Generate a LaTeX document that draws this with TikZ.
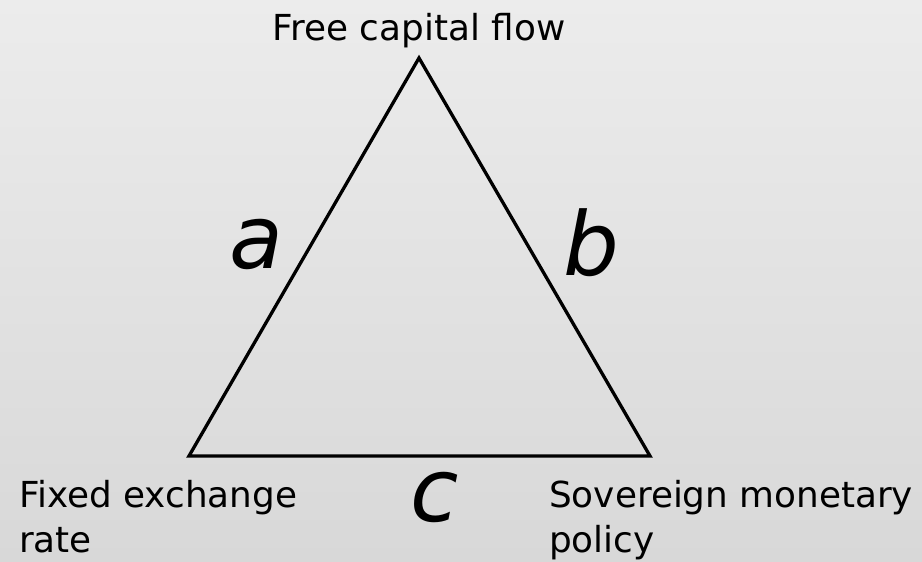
\documentclass[tikz,border=0pt]{standalone}
\usepackage{fontspec}
\setmainfont{DejaVu Sans}
\begin{document}
\begin{tikzpicture}[x=1pt,y=-1pt,
  lbl/.style={font=\fontsize{35.8}{45}\selectfont, inner sep=0pt, align=left},
  side/.style={font=\fontsize{88}{88}\selectfont\itshape, inner sep=0pt, anchor=base},
  edge/.style={line width=3.3pt, line join=miter}]
\shade[top color={rgb,255:red,236;green,236;blue,236}, bottom color={rgb,255:red,216;green,216;blue,216}] (0,0) rectangle (922,562);
\useasboundingbox (0,0) rectangle (922,562);
\coordinate (T) at (419,58);
\coordinate (L) at (189,456);
\coordinate (R) at (650,456);
\draw[edge] (T) -- (L) -- (R) -- cycle;
\node[lbl, anchor=base] (top) at (419,40) {Free capital flow};
\node[lbl, anchor=base west] (fx) at (19,552) {Fixed exchange\\rate};
\node[lbl, anchor=base west] (sv) at (549,552) {Sovereign monetary\\policy};
\node[side] (a) at (256,268) {a};
\node[side] (b) at (591,275) {b};
\node[side] (c) at (435,521) {c};
\end{tikzpicture}
\end{document}
